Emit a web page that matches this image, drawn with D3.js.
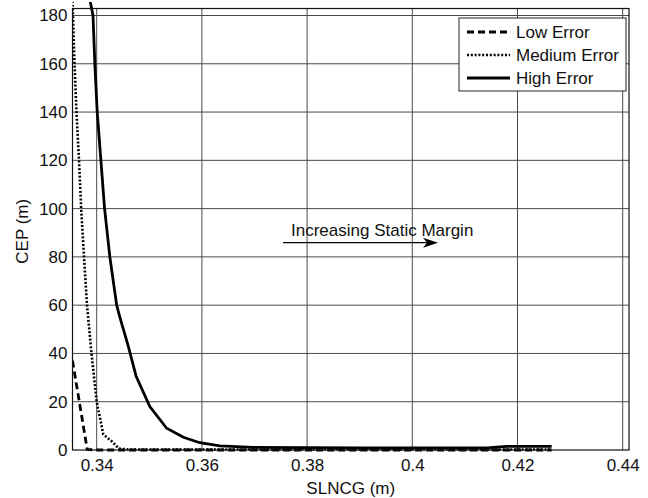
<!DOCTYPE html>
<html><head><meta charset="utf-8">
<script src="https://cdn.jsdelivr.net/npm/d3@7"></script>
<style>body{margin:0;background:#fff} text{font-family:"Liberation Sans",Arial,sans-serif;fill:#111}</style>
</head><body><svg id="c" width="648" height="498"></svg>
<script>
const xTicks=[0.34,0.36,0.38,0.40,0.42,0.44];
const xTickLabels=["0.34","0.36","0.38","0.4","0.42","0.44"];
const yTicks=[0,20,40,60,80,100,120,140,160,180];
const yTickLabels=["0","20","40","60","80","100","120","140","160","180"];
const seriesNames=["Low Error","Medium Error","High Error"];
const lowX=[0.3354,0.3382,0.3400,0.3800,0.4265];
const lowY=[37,0.2,0,0,0];
const medX=[0.3354,0.33578,0.33616,0.33664,0.33705,0.33759,0.33816,0.33901,0.3400,0.34125,0.3429,0.34424,0.3460,0.4265];
const medY=[186,160,140,120,100,80,60,40,20,6.5,3.5,0.6,0.2,0.2];
const highX=[0.33875,0.3393,0.33965,0.3401,0.3408,0.3415,0.3425,0.3438,0.3444,0.3460,0.3475,0.3501,0.3533,0.3565,0.3596,0.3634,0.3697,0.3800,0.3900,0.4000,0.4100,0.4147,0.4180,0.4265];
const highY=[186,180,160,140,120,100,80,60,55,43,30.5,18,9,5.3,3,1.7,1.1,1.0,0.9,0.9,0.9,1.0,1.5,1.5];
const arrowText="Increasing Static Margin";

const svg=d3.select("#c");
const L=72.5,R=629,T=8.5,B=450;
const x=d3.scaleLinear().domain([0.3354,0.4412]).range([L,R]);
const y=d3.scaleLinear().domain([0,182.9]).range([B,T]);

// grid
const g=svg.append("g");
g.selectAll(".vg").data(xTicks).join("line")
 .attr("x1",d=>x(d)).attr("x2",d=>x(d)).attr("y1",T).attr("y2",B)
 .attr("stroke","#4a4a4a").attr("stroke-width",1);
g.selectAll(".hg").data(yTicks.slice(1)).join("line")
 .attr("x1",L).attr("x2",R).attr("y1",d=>y(d)).attr("y2",d=>y(d))
 .attr("stroke","#4a4a4a").attr("stroke-width",1);

// axes labels via d3 axes
const xa=svg.append("g").attr("transform",`translate(0,${B})`)
 .call(d3.axisBottom(x).tickValues(xTicks).tickFormat((d,i)=>xTickLabels[i]).tickSize(0).tickPadding(9));
xa.select(".domain").remove();
xa.selectAll("text").attr("font-size",17).attr("fill","#111");
const ya=svg.append("g").attr("transform",`translate(${L},0)`)
 .call(d3.axisLeft(y).tickValues(yTicks).tickFormat((d,i)=>yTickLabels[i]).tickSize(0).tickPadding(5));
ya.select(".domain").remove();
ya.selectAll("text").attr("font-size",17).attr("fill","#111");

// clip (lines may spill slightly past the box edges, as in the source)
svg.append("clipPath").attr("id","clp").append("rect").attr("x",L).attr("y",2).attr("width",R-L).attr("height",B+2.5-2);
const line=d3.line().x(d=>x(d[0])).y(d=>y(d[1]));
const pl=svg.append("g").attr("clip-path","url(#clp)");
pl.append("path").datum(lowX.map((v,i)=>[v,lowY[i]])).attr("d",line)
 .attr("fill","none").attr("stroke","#000").attr("stroke-width",2.8).attr("stroke-dasharray","7,4");
pl.append("path").datum(medX.map((v,i)=>[v,medY[i]])).attr("d",line)
 .attr("fill","none").attr("stroke","#000").attr("stroke-width",2.6).attr("stroke-dasharray","2,1.8");
pl.append("path").datum(highX.map((v,i)=>[v,highY[i]])).attr("d",line)
 .attr("fill","none").attr("stroke","#000").attr("stroke-width",2.8);

// box
svg.append("rect").attr("x",L).attr("y",T).attr("width",R-L).attr("height",B-T)
 .attr("fill","none").attr("stroke","#111").attr("stroke-width",1.2);

// axis titles
svg.append("text").attr("x",(L+R)/2).attr("y",494).attr("text-anchor","middle").attr("font-size",17).text("SLNCG (m)");
svg.append("text").attr("transform",`translate(28,${(T+B)/2+2}) rotate(-90)`).attr("text-anchor","middle").attr("font-size",17).text("CEP (m)");

// annotation
svg.append("text").attr("x",x(0.37694)).attr("y",y(88.5)).attr("font-size",17).text(arrowText);
const ay=y(85.9);
svg.append("line").attr("x1",x(0.37542)).attr("x2",x(0.4035)).attr("y1",ay).attr("y2",ay).attr("stroke","#000").attr("stroke-width",1.3);
const ax2=x(0.40489);
svg.append("path").attr("d",`M${ax2},${ay} L${ax2-15},${ay-5} L${ax2-11},${ay} L${ax2-15},${ay+5} Z`).attr("fill","#000");

// legend
const lg=svg.append("g");
lg.append("rect").attr("x",459).attr("y",18).attr("width",167).attr("height",73).attr("fill","#fff").attr("stroke","#222").attr("stroke-width",1);
const dashes=["7,4","2,1.8",null];
const widths=[2.8,2.6,2.8];
seriesNames.forEach((n,i)=>{
  const yy=32+i*23;
  const l=lg.append("line").attr("x1",467).attr("x2",510).attr("y1",yy).attr("y2",yy).attr("stroke","#000").attr("stroke-width",widths[i]);
  if(dashes[i]) l.attr("stroke-dasharray",dashes[i]);
  lg.append("text").attr("x",516).attr("y",yy).attr("dy","0.35em").attr("font-size",17).text(n);
});
</script></body></html>
